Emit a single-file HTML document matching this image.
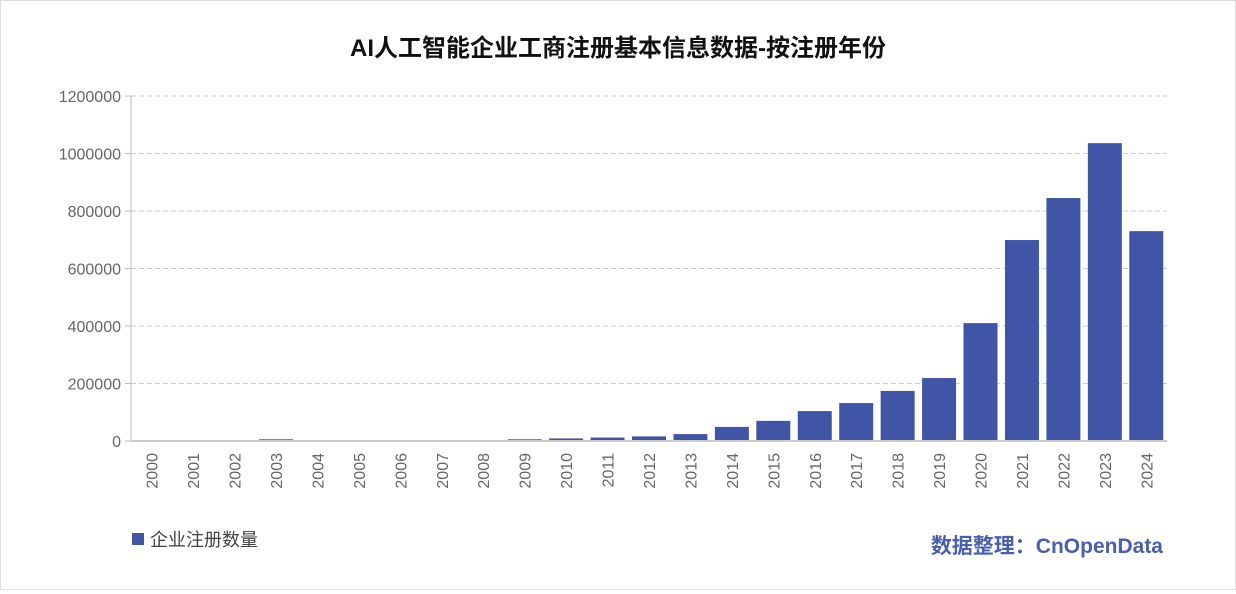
<!DOCTYPE html>
<html><head><meta charset="utf-8"><style>
body{margin:0;background:#fff;font-family:"Liberation Sans","Noto Sans CJK SC",sans-serif}
#wrap{position:relative;width:1234px;height:588px;border:1px solid #ddd}
</style></head><body>
<div id="wrap">
<svg id="chart" width="1234" height="588"></svg>
</div>
<script>
const categories=["2000","2001","2002","2003","2004","2005","2006","2007","2008","2009","2010","2011","2012","2013","2014","2015","2016","2017","2018","2019","2020","2021","2022","2023","2024"];
const seriesValues=[3000,3000,3000,6000,0,0,3000,3000,3000,6000,9000,12000,16000,24000,49000,70000,104000,132000,174000,219000,410000,699000,845000,1036000,730000];
const yTicks=[0,200000,400000,600000,800000,1000000,1200000];
const svg=document.getElementById('chart');
const NS='http://www.w3.org/2000/svg';
const x0=130,x1=1166,yb=440,yt=95,ymax=1200000;
const band=(x1-x0)/categories.length;
const yS=v=>yb-(v/ymax)*(yb-yt);
const xS=i=>x0+i*band;
function mk(t,a,txt){const e=document.createElementNS(NS,t);for(const k in a)e.setAttribute(k,a[k]);if(txt!==undefined)e.textContent=txt;svg.appendChild(e);return e;}
let t=mk('text',{x:617,y:55,'text-anchor':'middle','font-size':24,'font-weight':'bold',fill:'#111'},'AI人工智能企业工商注册基本信息数据-按注册年份');


yTicks.forEach(v=>{const y=yS(v);
 if(v>0){const g=mk('line',{x1:x0,x2:x1,y1:y,y2:y,stroke:'#ccc','stroke-dasharray':'5,3'});
 
 }
 const tk=mk('line',{x1:x0-6,x2:x0,y1:y,y2:y,stroke:'#bbb'});
 
 
 const l=mk('text',{x:x0-10,y:y+6,'text-anchor':'end','font-size':16,fill:'#666'},String(v));
 
 
});
const ax=mk('line',{x1:x0,x2:x0,y1:yt,y2:yb,stroke:'#bbb'});


categories.forEach((c,i)=>{
 const bw=band*0.82, x=xS(i)+(band-bw)/2, y=yS(seriesValues[i]);
 const r=mk('rect',{x:x,y:y,width:bw,height:yb-y,fill:'#4055a6'});
 
 
 const cx=xS(i)+band/2;
 const l=mk('text',{x:0,y:0,'text-anchor':'end','font-size':16,fill:'#666',transform:`translate(${cx+6},${yb+12}) rotate(-90)`},c);
 
 
});
const xa=mk('line',{x1:x0,x2:x1,y1:yb,y2:yb,stroke:'#ccc','stroke-width':2});


const lg=mk('rect',{x:131,y:532,width:12,height:12,fill:'#4055a6'});


const lt=mk('text',{x:149,y:545,'font-size':18,fill:'#444'},'企业注册数量');


const src=mk('text',{x:1162,y:552,'text-anchor':'end','font-size':21,'font-weight':'bold',fill:'#4a5fae'},'数据整理：CnOpenData');


</script>
</body></html>
